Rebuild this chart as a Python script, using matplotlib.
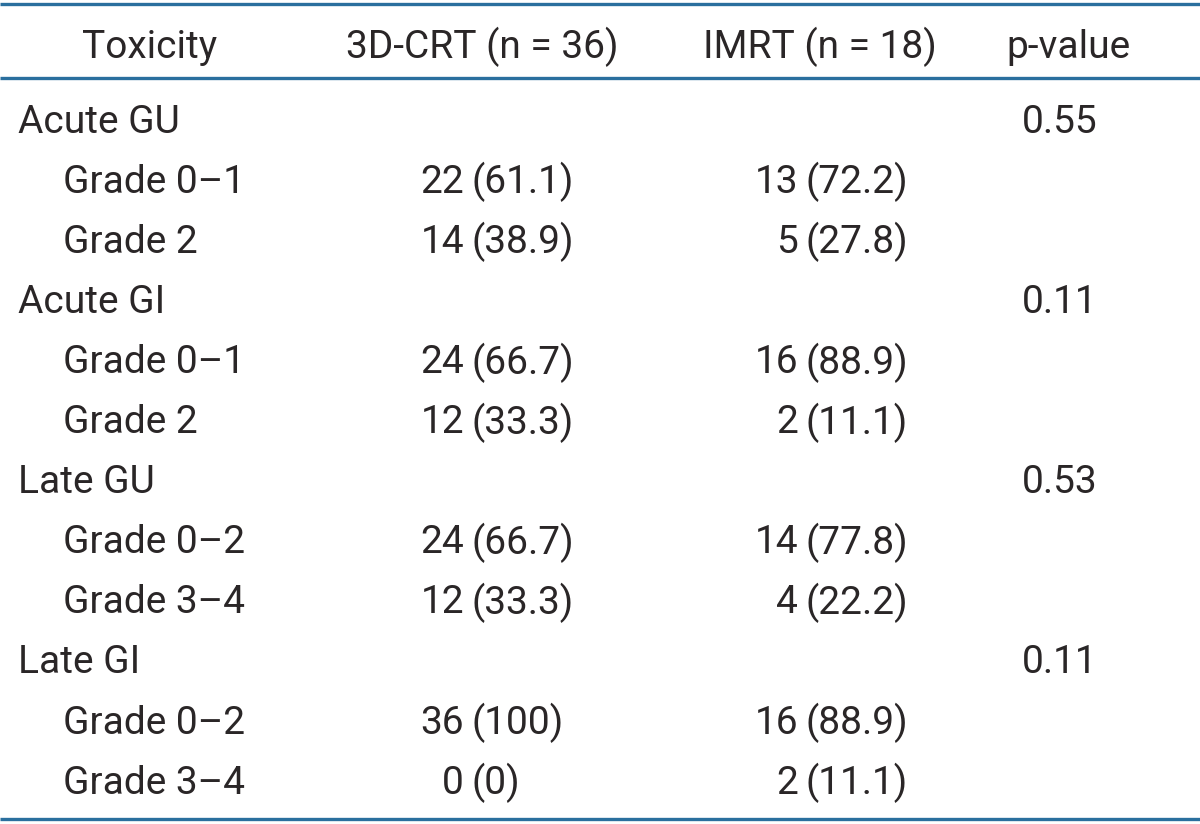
import matplotlib
matplotlib.use("Agg")
import matplotlib.pyplot as plt

headers = ["Toxicity", "3D-CRT (n = 36)", "IMRT (n = 18)", "p-value"]
labels = ["Acute GU", "Grade 0\u20131", "Grade 2",
          "Acute GI", "Grade 0\u20131", "Grade 2",
          "Late GU", "Grade 0\u20132", "Grade 3\u20134",
          "Late GI", "Grade 0\u20132", "Grade 3\u20134"]
is_group = [True, False, False, True, False, False,
            True, False, False, True, False, False]
crt_n = ["", "22", "14", "", "24", "12", "", "24", "12", "", "36", "0"]
crt_pct = ["", "61.1", "38.9", "", "66.7", "33.3", "", "66.7", "33.3", "", "100", "0"]
imrt_n = ["", "13", "5", "", "16", "2", "", "14", "4", "", "16", "2"]
imrt_pct = ["", "72.2", "27.8", "", "88.9", "11.1", "", "77.8", "22.2", "", "88.9", "11.1"]
pvals = ["0.55", "", "", "0.11", "", "", "0.53", "", "", "0.11", "", ""]

plt.rcParams['font.family'] = ['Roboto', 'DejaVu Sans']
txt = "#2a2627"
line_col = "#2a6f9e"
fs = 28

fig = plt.figure(figsize=(12, 8.24), dpi=100)
ax = fig.add_axes([0, 0, 1, 1])
ax.set_xlim(0, 1200)
ax.set_ylim(824, 0)
ax.axis("off")

# rules
for y in (4, 78, 819):
    ax.plot([0, 1200], [y, y], color=line_col, lw=2.4, solid_capstyle="butt")

# header
head_x = [150, 482, 820, 1068]
for x, h in zip(head_x, headers):
    ax.text(x, 47, h, ha="center", va="center", fontsize=fs, color=txt)

row0 = 122
step = 60.1
for i in range(len(labels)):
    y = row0 + i * step
    lx = 18 if is_group[i] else 63
    ax.text(lx, y, labels[i], ha="left", va="center", fontsize=fs, color=txt)
    if crt_n[i]:
        ax.text(464, y, crt_n[i], ha="right", va="center", fontsize=fs, color=txt)
        ax.text(472, y, "(" + crt_pct[i] + ")", ha="left", va="center", fontsize=fs, color=txt)
    if imrt_n[i]:
        ax.text(798, y, imrt_n[i], ha="right", va="center", fontsize=fs, color=txt)
        ax.text(806, y, "(" + imrt_pct[i] + ")", ha="left", va="center", fontsize=fs, color=txt)
    if pvals[i]:
        ax.text(1060, y, pvals[i], ha="center", va="center", fontsize=fs, color=txt)

fig.savefig("out.png", dpi=100)
